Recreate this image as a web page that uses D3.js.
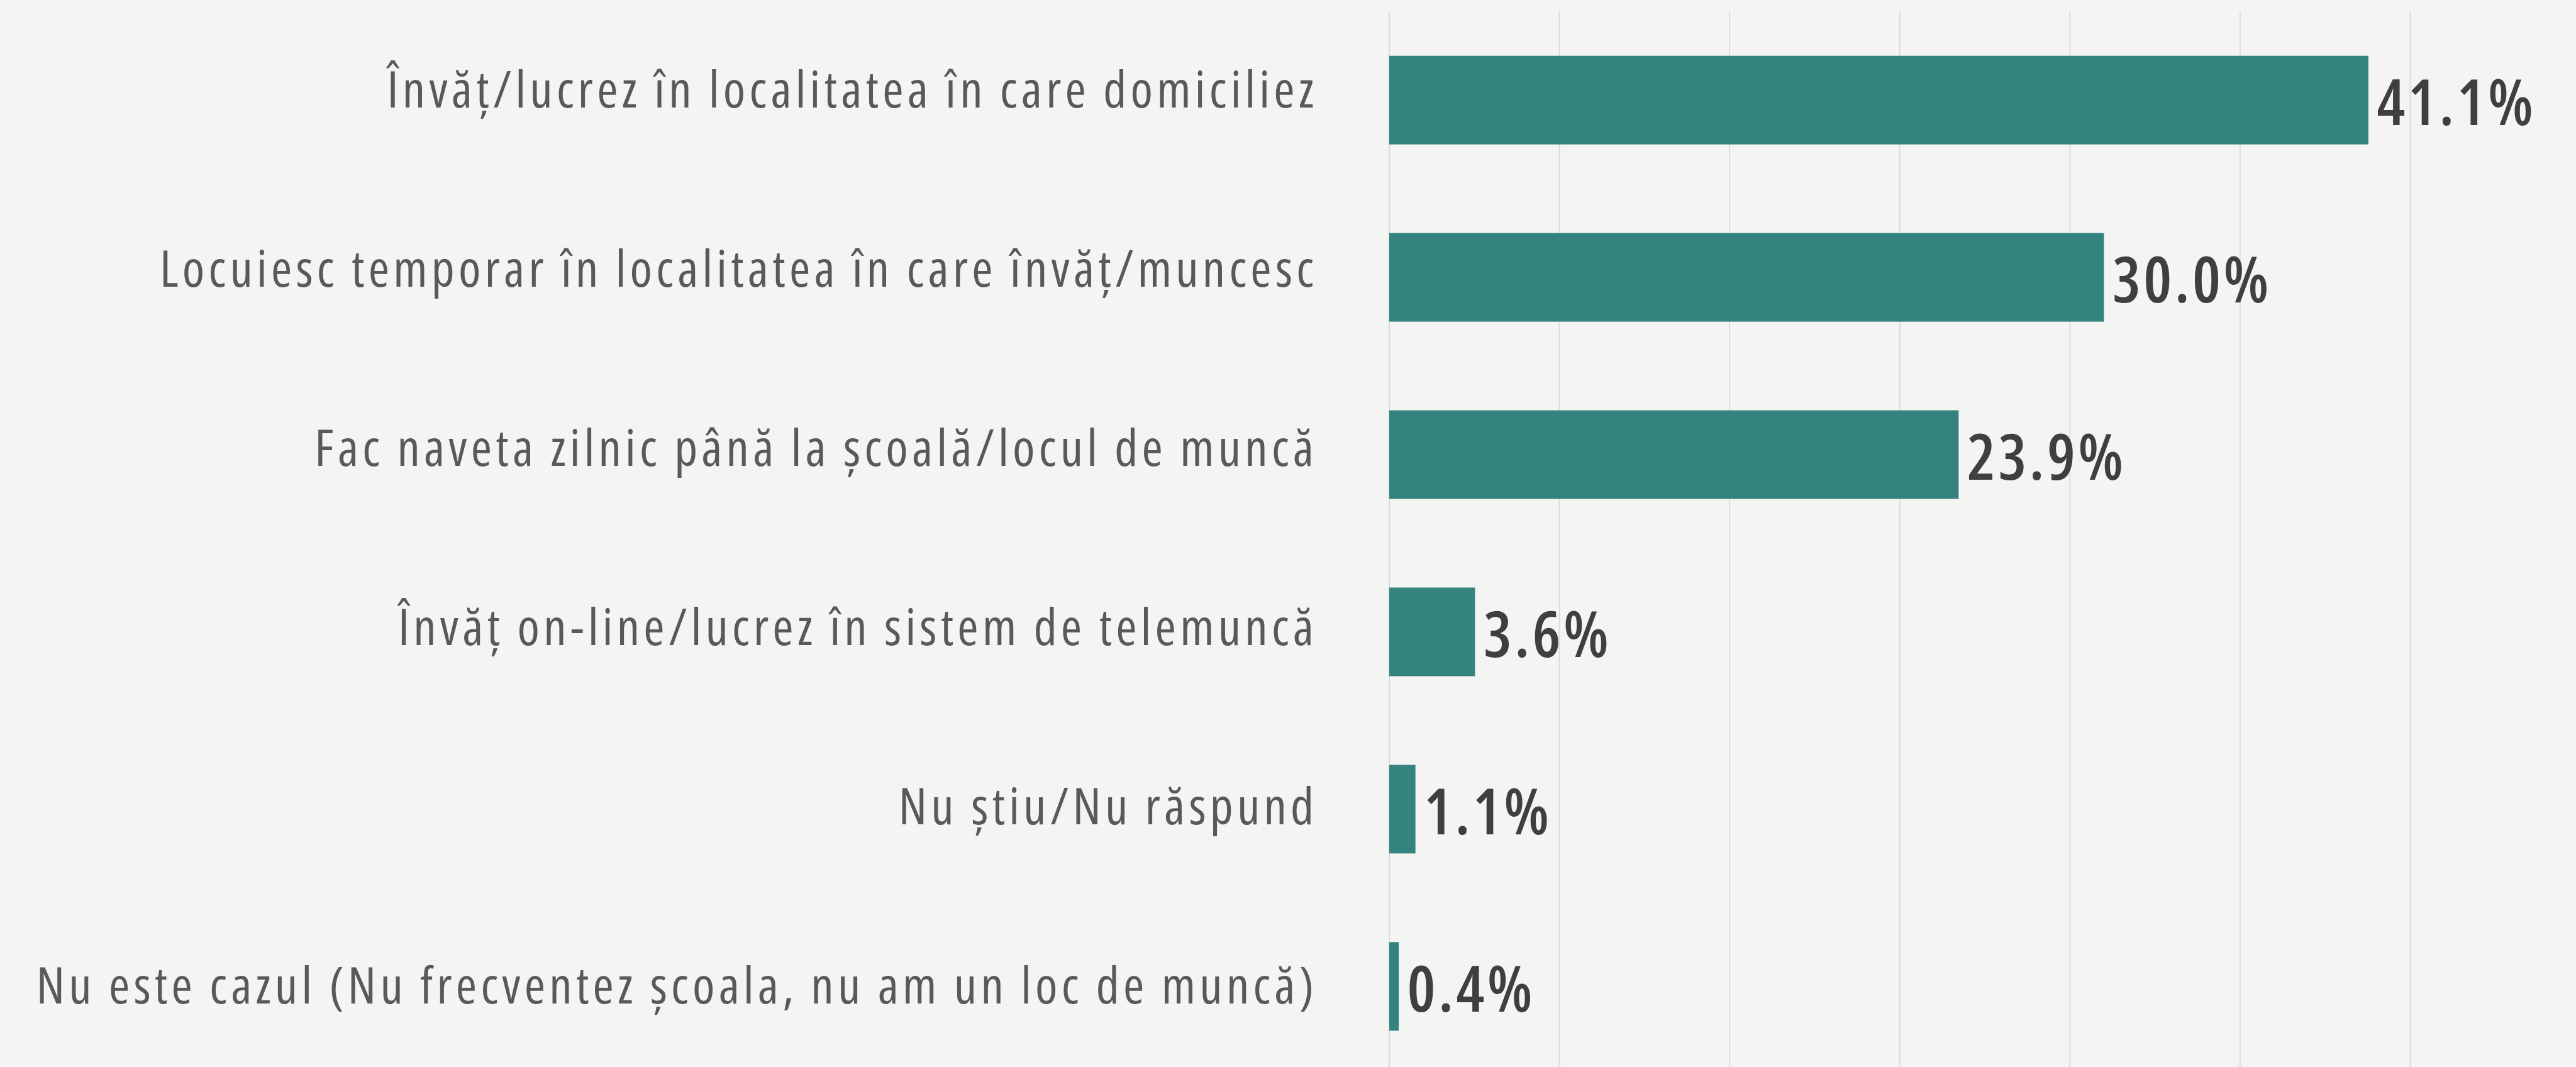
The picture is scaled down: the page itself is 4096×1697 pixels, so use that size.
<!DOCTYPE html>
<html>
<head>
<meta charset="utf-8">
<script src="https://cdn.jsdelivr.net/npm/d3@7"></script>
<style>
  html, body { margin: 0; padding: 0; background: #f4f4f2; overflow: hidden; }
  svg { display: block; }
</style>
</head>
<body>
<script>
// Survey answers and their shares (%)
const categories = [
  "Învăț/lucrez în localitatea în care domiciliez",
  "Locuiesc temporar în localitatea în care învăț/muncesc",
  "Fac naveta zilnic până la școală/locul de muncă",
  "Învăț on-line/lucrez în sistem de telemuncă",
  "Nu știu/Nu răspund",
  "Nu este cazul (Nu frecventez școala, nu am un loc de muncă)"
];
const values = [41.1, 30.0, 23.9, 3.6, 1.1, 0.4];
const gridValues = [0, 50 / 7, 100 / 7, 150 / 7, 200 / 7, 250 / 7, 300 / 7, 50];

const W = 4096, H = 1697;
const S = 0.96;              // drawing unit -> screen
const baseH = 1767;

const svg = d3.select("body").append("svg")
  .attr("width", W).attr("height", H);

svg.append("rect").attr("width", W).attr("height", H).attr("fill", "#f4f4f2");

const g = svg.append("g").attr("transform", `scale(${S})`);

const x = d3.scaleLinear().domain([0, 50]).range([2301, 4274]);
const y = d3.scaleBand().domain(categories).range([19, 1781])
  .paddingInner(0.5).paddingOuter(0.25);
// category labels sit on their own slightly wider rhythm
const yLabel = d3.scalePoint().domain(categories).range([178, 1663]);

// vertical grid
g.append("g").selectAll("line").data(gridValues).join("line")
  .attr("x1", d => x(d)).attr("x2", d => x(d))
  .attr("y1", 19).attr("y2", baseH + 20)
  .attr("stroke", "#dadada").attr("stroke-width", 2);

// bars
g.append("g").selectAll("rect").data(values).join("rect")
  .attr("x", x(0))
  .attr("y", (d, i) => y(categories[i]))
  .attr("width", d => x(d) - x(0))
  .attr("height", y.bandwidth())
  .attr("fill", "#35837e");

// category labels (trailing letter-spacing compensated in x)
const labelSpacing = 6.5;
g.append("g").selectAll("text").data(categories).join("text")
  .attr("x", 2176 + labelSpacing)
  .attr("y", d => yLabel(d))
  .attr("text-anchor", "end")
  .attr("font-family", "'Open Sans', 'Noto Sans', sans-serif")
  .attr("font-size", 84)
  .attr("letter-spacing", labelSpacing)
  .style("font-stretch", "75%")
  .attr("fill", "#595959")
  .text(d => d);

// value labels
const fmt = d3.format(".1f");
g.append("g").selectAll("text").data(values).join("text")
  .attr("x", d => x(d) + 14)
  .attr("y", (d, i) => y(categories[i]) + y.bandwidth() / 2 + 41.5)
  .attr("font-family", "'Open Sans', 'Noto Sans', sans-serif")
  .attr("font-size", 105)
  .attr("font-weight", 600)
  .attr("letter-spacing", 4.5)
  .style("font-stretch", "75%")
  .attr("fill", "#3f3f3f")
  .text(d => fmt(d) + "%");
</script>
</body>
</html>
